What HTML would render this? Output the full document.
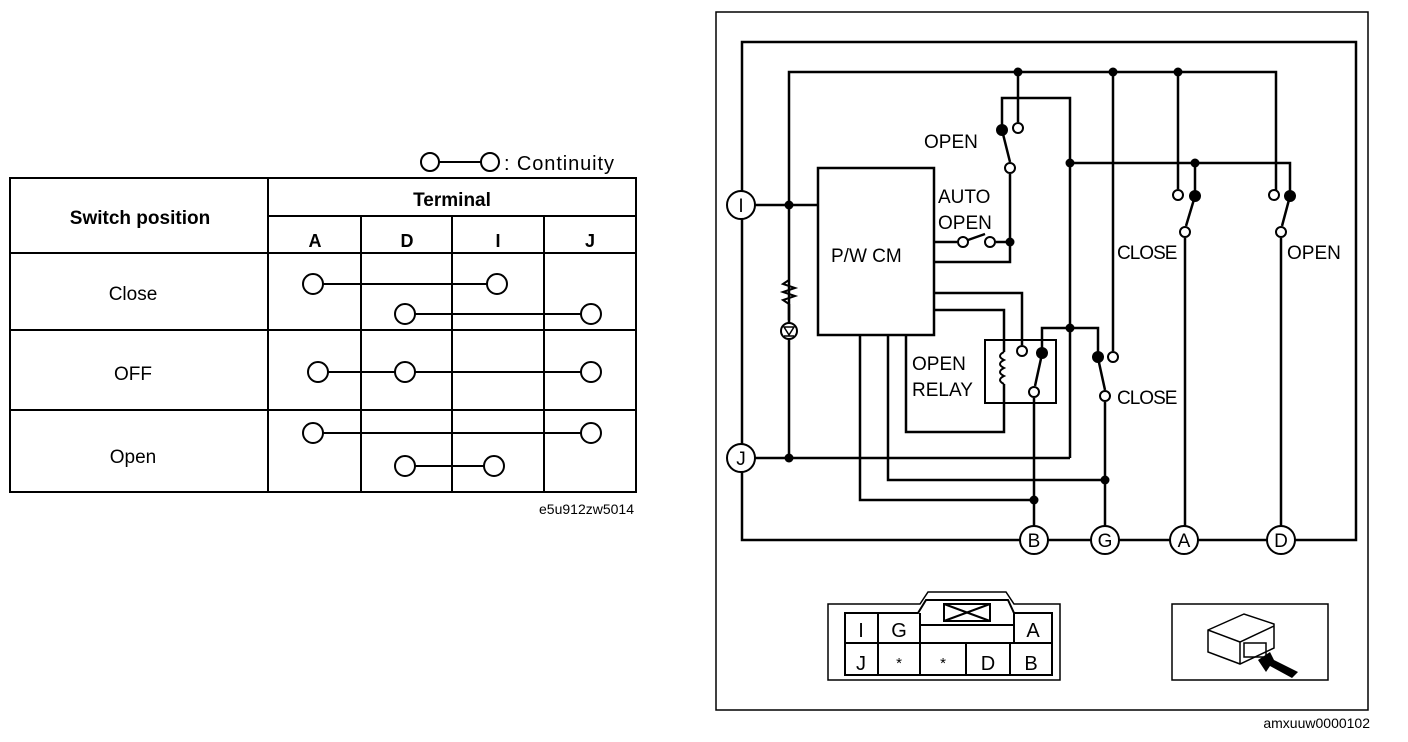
<!DOCTYPE html>
<html><head><meta charset="utf-8"><style>
html,body{margin:0;padding:0;background:#fff}
svg{display:block}
text{font-family:"Liberation Sans",Arial,sans-serif;fill:#000}
</style></head><body>
<svg width="1408" height="742" viewBox="0 0 1408 742" xmlns="http://www.w3.org/2000/svg">
<g fill="none" stroke="#000" stroke-width="2">
<rect x="10" y="178" width="626" height="314"/>
<line x1="268" y1="178" x2="268" y2="492"/>
<line x1="268" y1="216" x2="636" y2="216"/>
<line x1="10" y1="253" x2="636" y2="253"/>
<line x1="10" y1="330" x2="636" y2="330"/>
<line x1="10" y1="410" x2="636" y2="410"/>
<line x1="361" y1="216" x2="361" y2="492"/>
<line x1="452" y1="216" x2="452" y2="492"/>
<line x1="544" y1="216" x2="544" y2="492"/>
<line x1="313" y1="284" x2="497" y2="284"/>
<line x1="405" y1="314" x2="591" y2="314"/>
<line x1="318" y1="372" x2="591" y2="372"/>
<line x1="313" y1="433" x2="591" y2="433"/>
<line x1="405" y1="466" x2="494" y2="466"/>
<line x1="430" y1="162" x2="490" y2="162"/>
</g>
<g fill="#fff" stroke="#000" stroke-width="2">
<circle cx="313" cy="284" r="10"/><circle cx="497" cy="284" r="10"/>
<circle cx="405" cy="314" r="10"/><circle cx="591" cy="314" r="10"/>
<circle cx="318" cy="372" r="10"/><circle cx="405" cy="372" r="10"/><circle cx="591" cy="372" r="10"/>
<circle cx="313" cy="433" r="10"/><circle cx="591" cy="433" r="10"/>
<circle cx="405" cy="466" r="10"/><circle cx="494" cy="466" r="10"/>
<circle cx="430" cy="162" r="9"/><circle cx="490" cy="162" r="9"/>
</g>
<text x="504" y="170" font-size="20" textLength="110">: Continuity</text>
<text x="140" y="224" font-size="19" font-weight="bold" text-anchor="middle">Switch position</text>
<text x="452" y="206" font-size="19" font-weight="bold" text-anchor="middle">Terminal</text>
<text x="315" y="247" font-size="18" font-weight="bold" text-anchor="middle">A</text>
<text x="407" y="247" font-size="18" font-weight="bold" text-anchor="middle">D</text>
<text x="498" y="247" font-size="18" font-weight="bold" text-anchor="middle">I</text>
<text x="590" y="247" font-size="18" font-weight="bold" text-anchor="middle">J</text>
<text x="133" y="300" font-size="19" text-anchor="middle">Close</text>
<text x="133" y="380" font-size="19" text-anchor="middle">OFF</text>
<text x="133" y="463" font-size="19" text-anchor="middle">Open</text>
<text x="634" y="514" font-size="14" text-anchor="end">e5u912zw5014</text>

<g fill="none" stroke="#000" stroke-width="2.5">
<rect x="716" y="12" width="652" height="698" stroke-width="1.5"/>
<rect x="742" y="42" width="614" height="498"/>
<polyline points="789,458 789,72 1276,72 1276,190"/>
<line x1="755" y1="205" x2="818" y2="205"/>
<line x1="755" y1="458" x2="1070" y2="458"/>
<rect x="818" y="168" width="116" height="167"/>
<line x1="1018" y1="72" x2="1018" y2="122"/>
<polyline points="1002,128 1002,98 1070,98 1070,458"/>
<line x1="1002" y1="130" x2="1010" y2="162"/>
<polyline points="1010,174 1010,262 934,262"/>
<line x1="934" y1="242" x2="957" y2="242"/>
<line x1="968" y1="240" x2="985" y2="234"/>
<line x1="996" y1="242" x2="1010" y2="242"/>
<polyline points="1070,163 1290,163 1290,192"/>
<line x1="1195" y1="163" x2="1195" y2="192"/>
<line x1="1178" y1="72" x2="1178" y2="189"/>
<line x1="1195" y1="196" x2="1186" y2="226"/>
<line x1="1290" y1="196" x2="1282" y2="226"/>
<line x1="1185" y1="238" x2="1185" y2="526"/>
<line x1="1281" y1="238" x2="1281" y2="526"/>
<line x1="1113" y1="72" x2="1113" y2="351"/>
<polyline points="1042,350 1042,328 1098,328 1098,355"/>
<line x1="1098" y1="358" x2="1105" y2="390"/>
<line x1="1105" y1="402" x2="1105" y2="526"/>
<rect x="985" y="340" width="71" height="63" stroke-width="2"/>
<polyline points="934,293 1022,293 1022,345"/>
<line x1="1042" y1="354" x2="1035" y2="386"/>
<line x1="1034" y1="398" x2="1034" y2="526"/>
<polyline points="934,310 1004,310 1004,352"/>
<path d="M1004,352 q-8,4 0,8 q-8,4 0,8 q-8,4 0,8 q-8,4 0,8" stroke-width="2"/>
<polyline points="1004,384 1004,432 906,432 906,335"/>
<polyline points="860,335 860,500 1034,500"/>
<polyline points="888,335 888,480 1105,480"/>
<polyline points="789,280 783,284 795,288 783,292 795,296 783,300 789,304" stroke-width="2"/>
<line x1="789" y1="304" x2="789" y2="320"/>
</g>
<circle cx="789" cy="331" r="8" fill="#fff" stroke="#000" stroke-width="2"/>
<path d="M784,327 h10 l-5,8z M784,336 h10" fill="none" stroke="#000" stroke-width="1.5"/>
<g fill="#000">
<circle cx="1018" cy="72" r="4.5"/><circle cx="1113" cy="72" r="4.5"/><circle cx="1178" cy="72" r="4.5"/>
<circle cx="789" cy="205" r="4.5"/><circle cx="789" cy="458" r="4.5"/>
<circle cx="1070" cy="163" r="4.5"/><circle cx="1195" cy="163" r="4.5"/>
<circle cx="1010" cy="242" r="4.5"/><circle cx="1070" cy="328" r="4.5"/>
<circle cx="1105" cy="480" r="4.5"/><circle cx="1034" cy="500" r="4.5"/>
<circle cx="1002" cy="130" r="6"/><circle cx="1195" cy="196" r="6"/><circle cx="1290" cy="196" r="6"/>
<circle cx="1098" cy="357" r="6"/><circle cx="1042" cy="353" r="6"/>
</g>
<g fill="#fff" stroke="#000" stroke-width="2">
<circle cx="1018" cy="128" r="5"/><circle cx="1010" cy="168" r="5"/>
<circle cx="963" cy="242" r="5"/><circle cx="990" cy="242" r="5"/>
<circle cx="1178" cy="195" r="5"/><circle cx="1274" cy="195" r="5"/>
<circle cx="1185" cy="232" r="5"/><circle cx="1281" cy="232" r="5"/>
<circle cx="1113" cy="357" r="5"/><circle cx="1105" cy="396" r="5"/>
<circle cx="1022" cy="351" r="5"/><circle cx="1034" cy="392" r="5"/>
<circle cx="741" cy="205" r="14"/><circle cx="741" cy="458" r="14"/>
<circle cx="1034" cy="540" r="14"/><circle cx="1105" cy="540" r="14"/>
<circle cx="1184" cy="540" r="14"/><circle cx="1281" cy="540" r="14"/>
</g>
<g font-size="19" text-anchor="middle">
<text x="741" y="212">I</text><text x="741" y="465">J</text>
<text x="1034" y="547">B</text><text x="1105" y="547">G</text>
<text x="1184" y="547">A</text><text x="1281" y="547">D</text>
</g>
<g font-size="19">
<text x="924" y="148">OPEN</text>
<text x="938" y="203">AUTO</text>
<text x="938" y="229">OPEN</text>
<text x="831" y="262">P/W CM</text>
<text x="912" y="370">OPEN</text>
<text x="912" y="396">RELAY</text>
<text x="1117" y="259" letter-spacing="-1">CLOSE</text>
<text x="1287" y="259">OPEN</text>
<text x="1117" y="404" letter-spacing="-1">CLOSE</text>
</g>
<g fill="none" stroke="#000" stroke-width="2">
<path d="M828,604 H920 L928,592 H1006 L1014,604 H1060 V680 H828 Z" stroke-width="1.5"/>
<path d="M845,613 H918 L926,600 H1008 L1014,613 H1052 V675 H845 Z"/>
<line x1="845" y1="643" x2="1052" y2="643"/>
<line x1="878" y1="613" x2="878" y2="675"/>
<line x1="920" y1="613" x2="920" y2="675"/>
<line x1="1014" y1="613" x2="1014" y2="643"/>
<line x1="920" y1="625" x2="1014" y2="625"/>
<line x1="966" y1="643" x2="966" y2="675"/>
<line x1="1010" y1="643" x2="1010" y2="675"/>
<rect x="944" y="604" width="46" height="17"/>
<path d="M944,604 L990,621 M990,604 L944,621"/>
<rect x="1172" y="604" width="156" height="76" stroke-width="1.5"/>
<path d="M1208,630 L1244,614 L1274,624 L1274,648 L1240,664 L1208,652 Z M1208,630 L1240,642 L1274,626 M1240,642 V664" stroke-width="1.5"/>
<rect x="1244" y="643" width="22" height="14" stroke-width="1.5"/>
</g>
<path d="M1258,660 L1270,652 L1274,660 L1298,672 L1292,678 L1270,666 L1266,672 Z" fill="#000"/>
<g font-size="20" text-anchor="middle">
<text x="861" y="637">I</text><text x="899" y="637">G</text><text x="1033" y="637">A</text>
<text x="861" y="670">J</text><text x="899" y="668" font-size="15">*</text><text x="943" y="668" font-size="15">*</text>
<text x="988" y="670">D</text><text x="1031" y="670">B</text>
</g>
<text x="1370" y="728" font-size="14" text-anchor="end">amxuuw0000102</text>
</svg>
</body></html>
